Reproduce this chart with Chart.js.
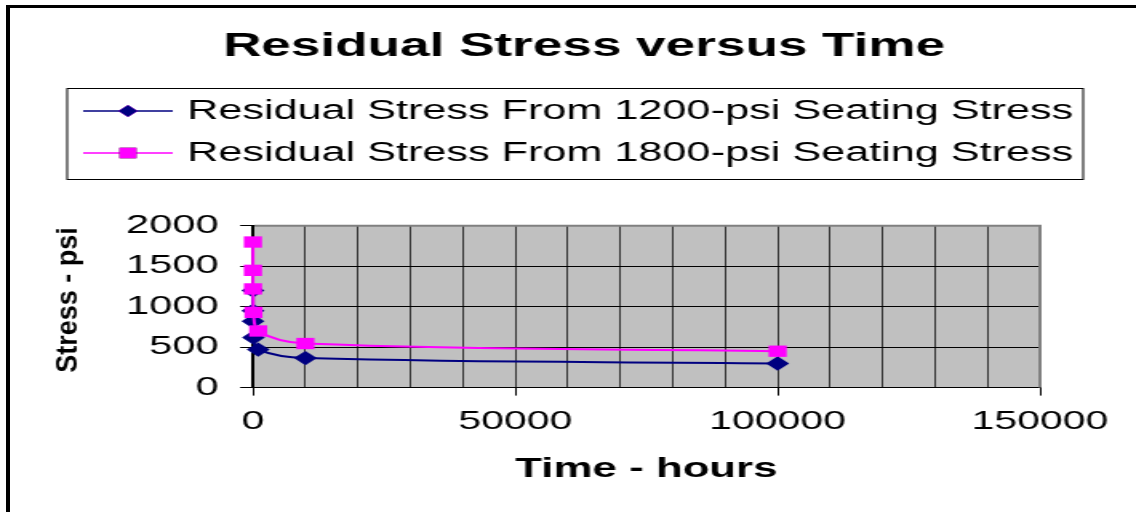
<!DOCTYPE html>
<html>
<head>
<meta charset="utf-8">
<script src="https://cdn.jsdelivr.net/npm/chart.js@4.4.0/dist/chart.umd.min.js"></script>
<style>
  html, body { margin: 0; padding: 0; background: #fff; overflow: hidden; }
  #frame { position: absolute; left: 6px; top: 5px; width: 1200px; height: 600px;
           border-left: 4px solid #000; border-top: 3px solid #000; }
  /* the original picture is stretched sideways, so the whole canvas is too */
  #c { position: absolute; left: 0; top: 0; width: 710px; height: 512px;
       transform: scaleX(1.6); transform-origin: 0 0; }
</style>
</head>
<body>
<div id="frame"></div>
<canvas id="c" width="710" height="512"></canvas>
<script>
const hours = [0, 1, 10, 100, 1000, 10000, 100000];
const stress1200 = [1200, 950, 820, 620, 470, 365, 298];
const stress1800 = [1800, 1450, 1220, 930, 700, 545, 450];
const seriesNames = [
    "Residual Stress From 1200-psi Seating Stress",
    "Residual Stress From 1800-psi Seating Stress"
];
const xLabelled = [0, 50000, 100000, 150000];
const yLabelled = [0, 500, 1000, 1500, 2000];

const FONT = "'Liberation Sans', Arial, sans-serif";

function points(xs, ys) {
    return xs.map((x, i) => ({ x: x, y: ys[i] }));
}

const plotBack = {
    id: "plotBack",
    beforeDraw(chart) {
        const { ctx, chartArea: a } = chart;
        ctx.save();
        ctx.fillStyle = "#c0c0c0";
        ctx.fillRect(a.left, a.top, a.right - a.left, a.bottom - a.top);
        ctx.restore();
    },
    beforeDatasetsDraw(chart) {
        const { ctx, chartArea: a } = chart;
        ctx.save();
        ctx.strokeStyle = "#808080";
        ctx.lineWidth = 2;
        ctx.beginPath();
        ctx.moveTo(a.left + 1, a.top);
        ctx.lineTo(a.right, a.top);
        ctx.lineTo(a.right, a.bottom);
        ctx.stroke();
        ctx.restore();
    }
};

const sideLegend = {
    id: "sideLegend",
    afterDraw(chart) {
        const ctx = chart.ctx;
        ctx.save();
        ctx.strokeStyle = "#000";
        ctx.lineWidth = 1;
        ctx.strokeRect(42, 88.5, 635, 91);
        const rows = [111, 153];
        chart.data.datasets.forEach((ds, i) => {
            const y = rows[i];
            ctx.strokeStyle = ds.borderColor;
            ctx.lineWidth = 1.5;
            ctx.beginPath();
            ctx.moveTo(52, y);
            ctx.lineTo(108, y);
            ctx.stroke();
            Chart.helpers.drawPoint(ctx, {
                pointStyle: ds.pointStyle,
                radius: i === 0 ? 6 : 7.5,
                borderWidth: 0,
                rotation: 0
            }, 80, y);
            ctx.fillStyle = ds.pointBackgroundColor;
            ctx.fill();
            ctx.fillStyle = "#000";
            ctx.font = "27px " + FONT;
            ctx.textAlign = "left";
            ctx.textBaseline = "middle";
            ctx.fillText(ds.label, 117, y + 1);
        });
        ctx.restore();
    }
};

// the rotated title is hardly stretched in the picture, so undo most of the stretch
const yTitle = {
    id: "yTitle",
    afterDraw(chart) {
        const ctx = chart.ctx;
        ctx.save();
        ctx.translate(43, 300);
        ctx.scale(1 / 1.45, 1);
        ctx.rotate(-Math.PI / 2);
        ctx.fillStyle = "#000";
        ctx.font = "bold 27px " + FONT;
        ctx.textAlign = "center";
        ctx.textBaseline = "middle";
        ctx.fillText("Stress - psi", 0, 0);
        ctx.restore();
    }
};

new Chart(document.getElementById("c"), {
    type: "line",
    data: {
        datasets: [{
            label: seriesNames[0],
            data: points(hours, stress1200),
            borderColor: "#000080",
            backgroundColor: "#000080",
            pointBackgroundColor: "#000080",
            pointStyle: "rectRot",
            pointRadius: 7.2,
            pointBorderWidth: 0,
            borderWidth: 2,
            tension: 0.4,
            clip: false,
            order: 1
        }, {
            label: seriesNames[1],
            data: points(hours, stress1800),
            borderColor: "#ff00ff",
            backgroundColor: "#ff00ff",
            pointBackgroundColor: "#ff00ff",
            pointStyle: "rect",
            pointRadius: 8,
            pointBorderWidth: 0,
            borderWidth: 2,
            tension: 0.4,
            clip: false,
            order: 0
        }]
    },
    options: {
        responsive: false,
        devicePixelRatio: 1,
        animation: false,
        events: [],
        layout: { padding: { left: 80.1, right: 60, top: 0, bottom: 13.5 } },
        plugins: {
            legend: { display: false },
            tooltip: { enabled: false },
            title: {
                display: true,
                text: "Residual Stress versus Time",
                color: "#000",
                font: { family: FONT, size: 33.2, weight: "bold" },
                padding: { top: 27, bottom: 159 }
            }
        },
        scales: {
            x: {
                type: "linear",
                min: 0,
                max: 150000,
                grid: {
                    color: "#333",
                    lineWidth: 1,
                    tickLength: 8,
                    tickColor: (c) => xLabelled.includes(c.tick.value) ? "#000" : "rgba(0,0,0,0)"
                },
                border: { color: "#000", width: 1 },
                ticks: {
                    stepSize: 10000,
                    autoSkip: false,
                    maxRotation: 0,
                    padding: 10.5,
                    color: "#000",
                    font: { family: FONT, size: 25.6 },
                    callback: (v) => xLabelled.includes(v) ? String(v) : ""
                },
                title: {
                    display: true,
                    text: "Time - hours",
                    color: "#000",
                    font: { family: FONT, size: 27.4, weight: "bold" },
                    padding: { top: 5.3, bottom: 13 }
                }
            },
            y: {
                min: 0,
                max: 2000,
                afterFit: (s) => { s.width = 78; },
                grid: { color: "#000", lineWidth: 1, tickLength: 8, tickColor: "#000" },
                border: { color: "#000", width: 2 },
                ticks: {
                    stepSize: 500,
                    padding: 13.5,
                    color: "#000",
                    font: { family: FONT, size: 26 },
                    callback: (v) => yLabelled.includes(v) ? String(v) : ""
                }
            }
        }
    },
    plugins: [plotBack, sideLegend, yTitle]
});
</script>
</body>
</html>
